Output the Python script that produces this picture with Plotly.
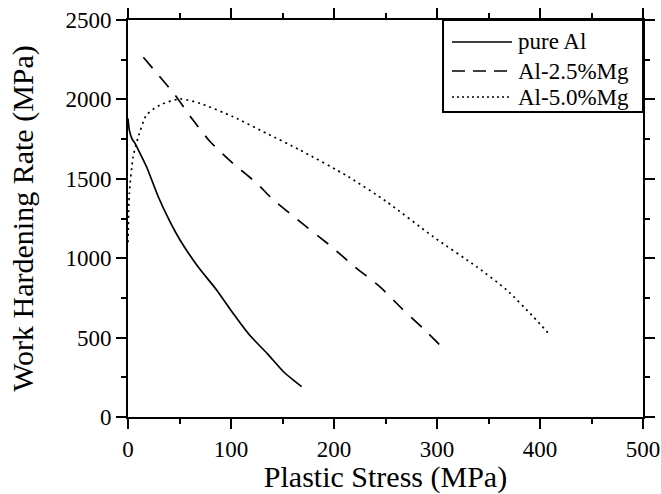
import plotly.graph_objects as go

# Data
pure_al_x = [0, 1.3, 4, 6.8, 11.7, 18, 29.4, 40, 50.5, 68, 86, 102, 118, 135, 151, 160, 168.6]
pure_al_y = [1880, 1807, 1750, 1723, 1660, 1576, 1387, 1240, 1115, 946, 800, 653, 516, 401, 285, 235, 191]

mg25_x = [14.9, 30, 45.6, 61.8, 79.6, 102, 125, 139.5, 167, 197.7, 220, 244.7, 265.7, 288, 308.4]
mg25_y = [2265, 2150, 2028, 1881, 1735, 1597, 1472, 1377, 1230, 1072, 946, 820, 684, 548, 418]

mg50_x = [0, 1.3, 5, 10, 18, 31, 50.5, 70, 102, 134.6, 167, 214, 251, 296.4, 338.5, 367.7, 393.5, 409.7]
mg50_y = [1100, 1409, 1640, 1765, 1902, 1965, 2003, 1975, 1891, 1786, 1681, 1513, 1356, 1135, 946, 800, 631, 516]

series_names = ["pure Al", "Al-2.5%Mg", "Al-5.0%Mg"]

x_ticks = [0, 100, 200, 300, 400, 500]
y_ticks = [0, 500, 1000, 1500, 2000, 2500]

FONT = "Liberation Serif, Times New Roman, serif"
DASHES = ["solid", "14px,11px", "2px,4px"]
LEGEND_DASHES = ["solid", "13px,8px", "2px,3px"]

fig = go.Figure()
for name, xs, ys, dash in zip(series_names, [pure_al_x, mg25_x, mg50_x],
                              [pure_al_y, mg25_y, mg50_y], DASHES):
    fig.add_trace(go.Scatter(x=xs, y=ys, mode="lines", name=name, showlegend=False,
                             line=dict(color="black", width=1.7, dash=dash,
                                       shape="spline", smoothing=0.6)))

axis_common = dict(
    showgrid=False, zeroline=False, showline=True, linecolor="black", linewidth=2,
    mirror="ticks", ticks="outside", ticklen=10, tickwidth=1.5, tickcolor="black",
    tickfont=dict(family=FONT, size=23, color="black"), automargin=False,
)

fig.update_xaxes(**axis_common, range=[0, 500], tickvals=x_ticks,
                 ticktext=[str(v) for v in x_ticks],
                 minor=dict(ticks="outside", ticklen=5, tickwidth=1.5, tickcolor="black", dtick=50, showgrid=False),
                 title=dict(text="Plastic Stress (MPa)", font=dict(family=FONT, size=30, color="black"), standoff=2))
fig.update_yaxes(**axis_common, range=[0, 2500], tickvals=y_ticks,
                 ticktext=[str(v) for v in y_ticks],
                 minor=dict(ticks="outside", ticklen=5, tickwidth=1.5, tickcolor="black", dtick=250, showgrid=False),
                 title=dict(text="Work Hardening Rate (MPa)", font=dict(family=FONT, size=30, color="black"), standoff=23))

# Custom legend box (paper coordinates of the plot area)
box = dict(x0=0.6117, x1=1.0, y0=0.768, y1=1.0)
row_y = [0.9446, 0.8715, 0.806]
shapes = [dict(type="rect", xref="paper", yref="paper", **box,
               line=dict(color="black", width=2), fillcolor="white", layer="above")]
annotations = []
for name, ry, dash in zip(series_names, row_y, LEGEND_DASHES):
    shapes.append(dict(type="line", xref="paper", yref="paper", x0=0.6291, x1=0.7456,
                       y0=ry, y1=ry, line=dict(color="black", width=1.7, dash=dash), layer="above"))
    annotations.append(dict(xref="paper", yref="paper", x=0.7534, y=ry, xanchor="left",
                            yanchor="middle", text=name, showarrow=False,
                            font=dict(family=FONT, size=23, color="black")))

fig.update_layout(
    width=661, height=494,
    margin=dict(l=128, r=18, t=20, b=77),
    paper_bgcolor="white", plot_bgcolor="white",
    showlegend=False,
    shapes=shapes, annotations=annotations,
)

fig.write_html("out.html")
